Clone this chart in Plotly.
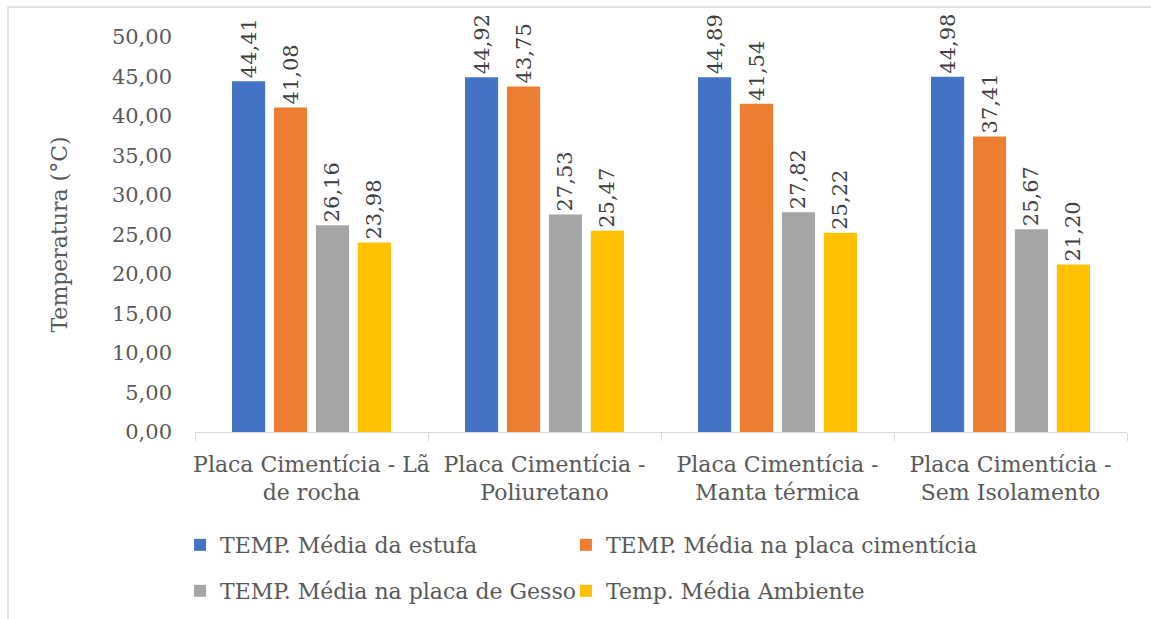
import plotly.graph_objects as go

categories = ["Placa Cimentícia - Lã<br>de rocha", "Placa Cimentícia -<br>Poliuretano",
              "Placa Cimentícia -<br>Manta térmica", "Placa Cimentícia -<br>Sem Isolamento"]
series_names = ["TEMP. Média da estufa", "TEMP. Média na placa cimentícia",
                "TEMP. Média na placa de Gesso", "Temp. Média Ambiente"]
estufa = [44.41, 44.92, 44.89, 44.98]
placa_cimenticia = [41.08, 43.75, 41.54, 37.41]
placa_gesso = [26.16, 27.53, 27.82, 25.67]
ambiente = [23.98, 25.47, 25.22, 21.20]
colors = ["#4472C4", "#ED7D31", "#A5A5A5", "#FFC000"]
legend_ids = ["legend", "legend2", "legend3", "legend4"]

FONT = "DejaVu Serif"
FS = 22
FS_NUM = 21

fig = go.Figure()
for name, vals, c, lg in zip(series_names, [estufa, placa_cimenticia, placa_gesso, ambiente], colors, legend_ids):
    fig.add_trace(go.Bar(
        x=categories, y=vals, name=name, marker=dict(color=c, line=dict(width=0)),
        texttemplate="%{y:.2f}", textposition="outside", textangle=-90,
        textfont=dict(family=FONT, size=FS_NUM, color="#404040"),
        cliponaxis=False, constraintext="none", legend=lg, showlegend=True,
    ))

leg_common = dict(orientation="h", xanchor="left", yanchor="middle", yref="container",
                  font=dict(family=FONT, size=FS, color="#595959"),
                  itemsizing="constant", bgcolor="rgba(0,0,0,0)")

# legend positions: column x (paper), row y (container)
col1, col2 = -0.016, 0.398
row1, row2 = 0.1195, 0.0452

fig.update_layout(
    width=1151, height=619,
    margin=dict(l=195, r=24, t=37, b=187),
    paper_bgcolor="white", plot_bgcolor="white",
    separators=",.", showlegend=True,
    barmode="group", bargap=0.28, bargroupgap=0.21,
    font=dict(family=FONT, size=FS, color="#595959"),
    xaxis=dict(showline=True, linecolor="#d9d9d9", linewidth=1.3,
               ticks="outside", tickson="boundaries", ticklen=8, tickcolor="#d9d9d9",
               ticklabelstandoff=12, tickangle=0, automargin=False,
               tickfont=dict(family=FONT, size=FS, color="#595959"), showgrid=False),
    yaxis=dict(range=[0, 50], dtick=5, tickformat=".2f", showgrid=False, zeroline=False,
               showline=False, ticks="", ticklabelstandoff=22,
               tickfont=dict(family=FONT, size=FS_NUM, color="#595959"),
               title=dict(text="Temperatura (°C)", font=dict(family=FONT, size=FS, color="#595959"),
                          standoff=38)),
    legend=dict(x=col1, y=row1, **leg_common),
    legend2=dict(x=col2, y=row1, **leg_common),
    legend3=dict(x=col1, y=row2, **leg_common),
    legend4=dict(x=col2, y=row2, **leg_common),
    shapes=[dict(type="rect", xref="paper", yref="paper",
                 x0=-0.2006, x1=1.1, y0=-0.6, y1=1.076,
                 line=dict(color="#d9d9d9", width=1.5), layer="below")],
)

fig.write_html("out.html")
